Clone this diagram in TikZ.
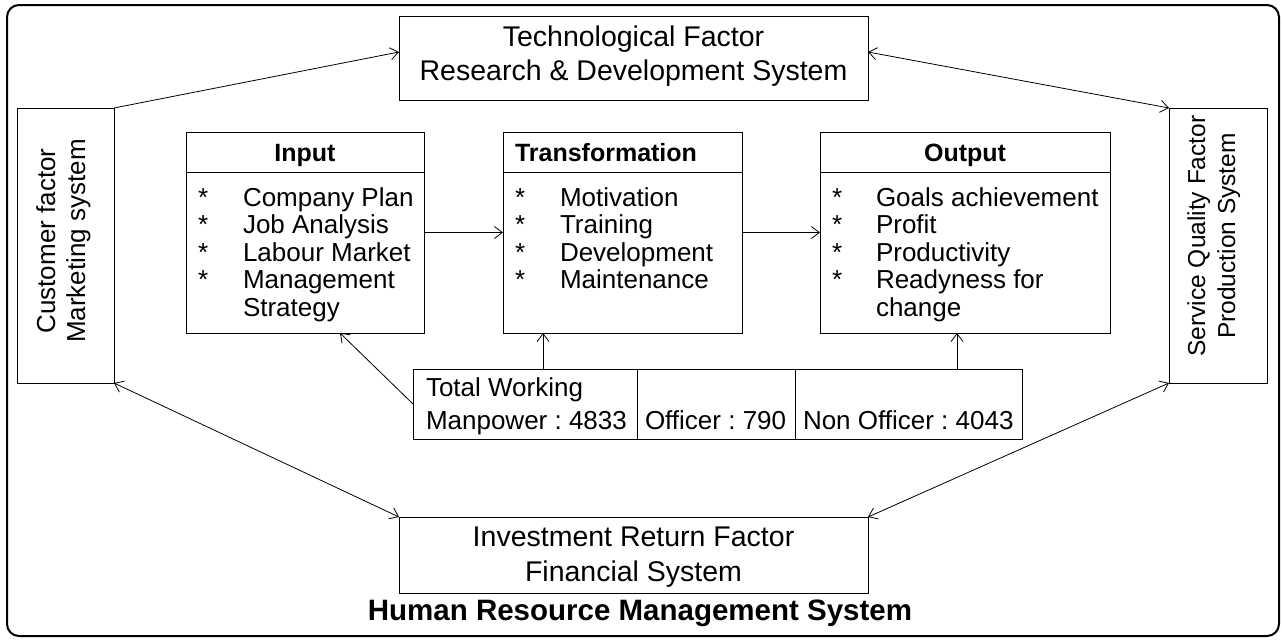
\documentclass[tikz,border=0pt]{standalone}
\usepackage{fontspec}
\setmainfont{Liberation Sans}
\usetikzlibrary{arrows.meta,calc}
\begin{document}
\frenchspacing
\begin{tikzpicture}[x=1pt,y=-1pt,
  box/.style={draw, line width=1pt, inner sep=0pt, outer sep=0pt},
  frame/.style={draw, line width=2pt, rounded corners=12pt, inner sep=0pt, outer sep=0pt},
  big/.style={inner sep=0pt, outer sep=0pt, anchor=base, font=\fontsize{28.5}{34}\selectfont},
  side/.style={inner sep=0pt, outer sep=0pt, anchor=base, rotate=90, font=\fontsize{26}{30}\selectfont},
  head/.style={inner sep=0pt, outer sep=0pt, anchor=base, font=\fontsize{25}{30}\selectfont\bfseries},
  item/.style={inner sep=0pt, outer sep=0pt, anchor=base west, font=\fontsize{26}{30}\selectfont},
  title/.style={inner sep=0pt, outer sep=0pt, anchor=base, font=\fontsize{29.5}{34}\selectfont\bfseries},
  tip/.tip={Straight Barb[length=8pt,width=12pt]},
  conn/.style={line width=0.8pt, -tip},
  dconn/.style={line width=0.8pt, tip-tip}
]
\useasboundingbox (0,0) rectangle (1282,640);

% outer frame
\node[frame, minimum width=1272pt, minimum height=631pt] (frm) at (643,320.5) {};

% factor boxes
\node[box, minimum width=469pt, minimum height=84pt] (tech) at (633.5,58) {};
\node[box, minimum width=97pt, minimum height=275pt] (cust) at (65.5,245.5) {};
\node[box, minimum width=98pt, minimum height=275pt] (serv) at (1218,245.5) {};
\node[box, minimum width=469pt, minimum height=76pt] (inv) at (633.5,555) {};

\node[big] (tech1) at (633.5,46) {Technological Factor};
\node[big] (tech2) at (633.5,80) {Research \& Development System};
\node[big] (inv1) at (633.5,546) {Investment Return Factor};
\node[big] (inv2) at (633.5,581) {Financial System};
\node[side] (cust1) at (55,241) {Customer factor};
\node[side] (cust2) at (85,241) {Marketing system};
\node[side, font=\fontsize{24.5}{30}\selectfont] (serv1) at (1205,236) {Service Quality Factor};
\node[side, font=\fontsize{24.5}{30}\selectfont] (serv2) at (1235,236) {Production System};
\node[title] (ttl) at (640,620) {Human Resource Management System};

% process boxes
\node[box, minimum width=238pt, minimum height=201pt] (inp) at (305,232.5) {};
\node[box, minimum width=239pt, minimum height=201pt] (trf) at (622.5,232.5) {};
\node[box, minimum width=290pt, minimum height=201pt] (out) at (965,232.5) {};
\draw[line width=1pt] (inp.north west) ++(0,40) -- ++(238,0);
\draw[line width=1pt] (trf.north west) ++(0,40) -- ++(239,0);
\draw[line width=1pt] (out.north west) ++(0,40) -- ++(290,0);

\node[head] (inpH) at (305,161) {Input};
\node[head, anchor=base west] (trfH) at (515,161) {Transformation};
\node[head] (outH) at (965,161) {Output};

\foreach \t [count=\i] in {Company Plan, Job Analysis, Labour Market, Management}
  \node[item] (inS\i) at (198,{206+27.5*(\i-1)}) {*};
\foreach \t [count=\i] in {Company Plan, Job Analysis, Labour Market, Management, Strategy}
  \node[item] (inT\i) at (243,{206+27.5*(\i-1)}) {\t};

\foreach \t [count=\i] in {Motivation, Training, Development, Maintenance} {
  \node[item] (trS\i) at (515,{206+27.5*(\i-1)}) {*};
  \node[item] (trT\i) at (560,{206+27.5*(\i-1)}) {\t};
}

\foreach \t [count=\i] in {Goals achievement, Profit, Productivity, Readyness for}
  \node[item] (ouS\i) at (832,{206+27.5*(\i-1)}) {*};
\foreach \t [count=\i] in {Goals achievement, Profit, Productivity, Readyness for, change}
  \node[item] (ouT\i) at (876,{206+27.5*(\i-1)}) {\t};

% manpower table
\node[box, minimum width=224pt, minimum height=70pt] (c1) at (525,404) {};
\node[box, minimum width=158pt, minimum height=70pt] (c2) at (716,404) {};
\node[box, minimum width=227pt, minimum height=70pt] (c3) at (908.5,404) {};
\node[item] (c1a) at (426,396) {Total Working};
\node[item] (c1b) at (426,429) {Manpower : 4833};
\node[item] (c2a) at (645,429) {Officer : 790};
\node[item] (c3a) at (803,429) {Non Officer : 4043};

% connectors
\draw[conn] (cust.north east) -- ([yshift=6pt]tech.west);
\draw[dconn] ([yshift=6pt]tech.east) -- (serv.north west);
\draw[dconn] (cust.south east) -- (inv.north west);
\draw[dconn] (serv.south west) -- (inv.north east);
\draw[conn] (inp.east) -- (trf.west);
\draw[conn] (trf.east) -- (out.west);
\draw[conn] (c1.west) -- ([xshift=35pt]inp.south);
\draw[conn] ([xshift=18pt]c1.north) -- ([xshift=18pt]c1.north |- trf.south);
\draw[conn] ([xshift=48.5pt]c3.north) -- ([xshift=48.5pt]c3.north |- out.south);
\end{tikzpicture}
\end{document}
